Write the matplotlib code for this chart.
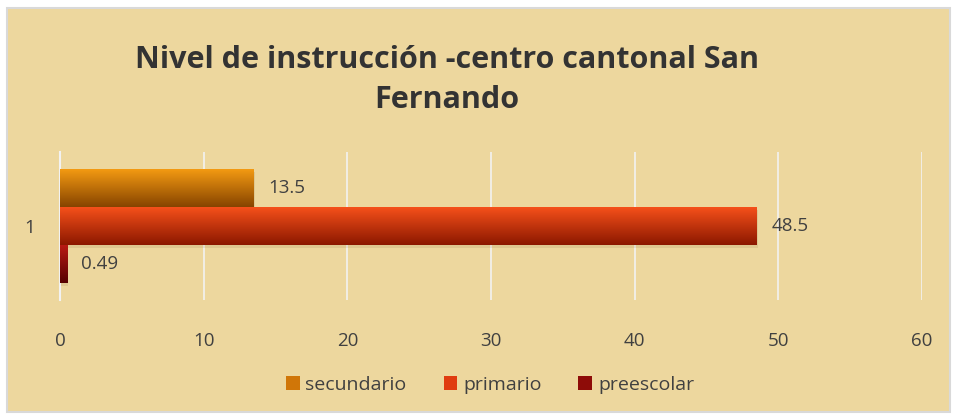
import numpy as np
import matplotlib.pyplot as plt
from matplotlib.colors import to_rgb
from matplotlib.patches import Rectangle, Patch

plt.rcParams['font.family'] = ['Open Sans', 'DejaVu Sans']

# Data
category = ["1"]
series = ["secundario", "primario", "preescolar"]
values = [13.5, 48.5, 0.49]
labels = ["13.5", "48.5", "0.49"]
xticks = [0, 10, 20, 30, 40, 50, 60]

# gradient colours (top, bottom) per series
grad = {
    "secundario": ("#F39A12", "#874400"),
    "primario": ("#F5501A", "#8C1800"),
    "preescolar": ("#B81A14", "#560000"),
}
legend_colors = {"secundario": "#D07608", "primario": "#E03C10", "preescolar": "#8E0C08"}

bg = "#EDD79E"

fig = plt.figure(figsize=(9.55, 4.18), dpi=100)
fig.patch.set_facecolor("white")
fig.patches.append(Rectangle((7 / 955, 6 / 418), 943 / 955, 404 / 418,
                             transform=fig.transFigure, facecolor=bg,
                             edgecolor="#D9D9D9", linewidth=1.5, zorder=-5))

ax = fig.add_axes([60 / 955, 1 - 300 / 418, (922 - 60) / 955, 148 / 418])
ax.set_facecolor("none")
ax.set_zorder(2)

h = 0.255
offsets = [h, 0.0, -h]
bars = []
for name, val, off in zip(series, values, offsets):
    b = ax.barh(0 + off, val, height=h, color="none", edgecolor="none", zorder=3)
    bars.append(b[0])

# vertical gradient fill clipped to each bar, plus a soft shadow
for name, bar in zip(series, bars):
    x0, y0 = bar.get_x(), bar.get_y()
    w, hh = bar.get_width(), bar.get_height()
    ax.add_patch(Rectangle((x0 + 0.1, y0 - 0.02), w, hh, facecolor="#7a5a30",
                           alpha=0.12, edgecolor="none", zorder=2))
    top, bot = grad[name]
    c1 = np.array(to_rgb(top))
    c2 = np.array(to_rgb(bot))
    t = np.linspace(0, 1, 64)[:, None]
    img = (c1 * (1 - t) + c2 * t)[:, None, :]
    im = ax.imshow(img, extent=(x0, x0 + w, y0, y0 + hh), origin="upper",
                   aspect="auto", zorder=3, interpolation="bilinear")
    im.set_clip_path(bar)

ax.set_xlim(0, 60)
ax.set_ylim(-0.5, 0.5)

# value labels
for bar, lab in zip(bars, labels):
    ax.text(bar.get_width() + 1.0, bar.get_y() + bar.get_height() / 2, lab,
            va="center", ha="left", fontsize=13.5, color="#404040", zorder=4)

ax.set_xticks(xticks)
ax.set_xticklabels([str(v) for v in xticks])
ax.set_yticks([0])
ax.set_yticklabels(category)
ax.tick_params(axis="both", length=0, labelsize=13.5, colors="#404040")
ax.tick_params(axis="x", pad=23)
ax.tick_params(axis="y", pad=18)
ax.grid(axis="x", color="#F2F2F2", linewidth=1.2, zorder=1)
ax.set_axisbelow(True)
for s in ["top", "right", "bottom"]:
    ax.spines[s].set_visible(False)
ax.spines["left"].set_color("#F2F2F2")
ax.spines["left"].set_linewidth(1.5)

fig.text(447 / 955, 1 - 80 / 418, "Nivel de instrucción -centro cantonal San\nFernando",
         ha="center", va="center", fontsize=22, fontweight="bold",
         color="#333333", linespacing=1.45)

handles = [Patch(facecolor=legend_colors[n], edgecolor="none") for n in series]
fig.legend(handles, series, loc="center", bbox_to_anchor=(490 / 955, 1 - 385 / 418),
           ncol=3, frameon=False, fontsize=14, handlelength=0.7, handleheight=0.7,
           handletextpad=0.3, columnspacing=1.9, labelcolor="#404040")

fig.savefig("out.png", dpi=100)
